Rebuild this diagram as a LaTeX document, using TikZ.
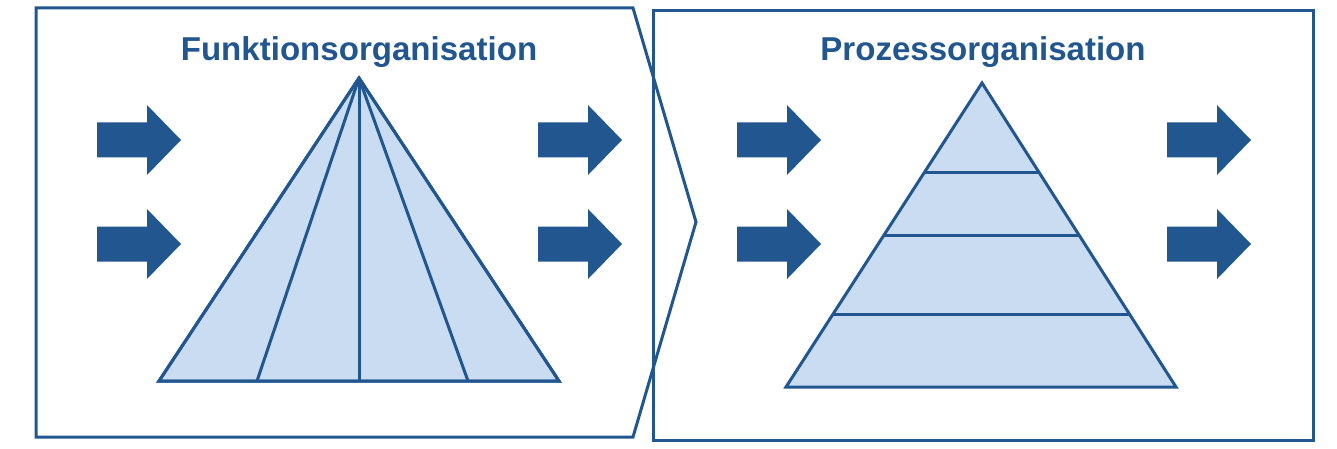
\documentclass[tikz,border=0pt]{standalone}
\usepackage{fontspec}
\setmainfont{Liberation Sans}
\usetikzlibrary{calc}
\definecolor{dblue}{HTML}{22568F}
\definecolor{lblue}{HTML}{C9DCF2}
\begin{document}
\begin{tikzpicture}[x=0.75pt,y=-0.75pt,
  frame/.style={draw=dblue,line width=2.25pt},
  pyr/.style={draw=dblue,line width=2.25pt,fill=lblue},
  pline/.style={draw=dblue,line width=2.25pt},
  fatarrow/.style={fill=dblue},
  title/.style={text=dblue,font=\fontsize{24.8}{28}\selectfont\bfseries,anchor=base,inner sep=0pt}]
\useasboundingbox (0,0) rectangle (1337,449);
% panels
\draw[frame] (36,8) -- (633,8) -- (696,222) -- (633,437) -- (36,437) -- cycle;
\draw[frame] (653,11) rectangle (1313,440);
% titles
\node[title] (t1) at (359,61) {Funktionsorganisation};
\node[title] (t2) at (983,61) {Prozessorganisation};
% arrows
\foreach \x in {97,538,737,1167}{
  \foreach \y in {140,244}{
    \fill[fatarrow] (\x,\y-17.5) -- (\x+50,\y-17.5) -- (\x+50,\y-35) -- (\x+84,\y)
      -- (\x+50,\y+35) -- (\x+50,\y+17.5) -- (\x,\y+17.5) -- cycle;
  }
}
% left pyramid
\coordinate (a1) at (359,78);
\coordinate (l1) at (159,381);
\coordinate (r1) at (559,381);
\draw[pyr] (a1) -- (l1) -- (r1) -- cycle;
\coordinate (b1) at (257,381);
\coordinate (b2) at (359,381);
\coordinate (b3) at (468,381);
\draw[pline] (a1) -- (b1);
\draw[pline] (a1) -- (b2);
\draw[pline] (a1) -- (b3);
\draw[pyr,fill=none] (a1) -- (l1) -- (r1) -- cycle;
% right pyramid
\coordinate (a2) at (982,83);
\coordinate (l2) at (786,387);
\coordinate (r2) at (1176,387);
\draw[pyr] (a2) -- (l2) -- (r2) -- cycle;
\foreach \t in {0.296,0.5,0.760}{
  \draw[pline] ($(a2)!\t!(l2)$) -- ($(a2)!\t!(r2)$);
}
\end{tikzpicture}
\end{document}
